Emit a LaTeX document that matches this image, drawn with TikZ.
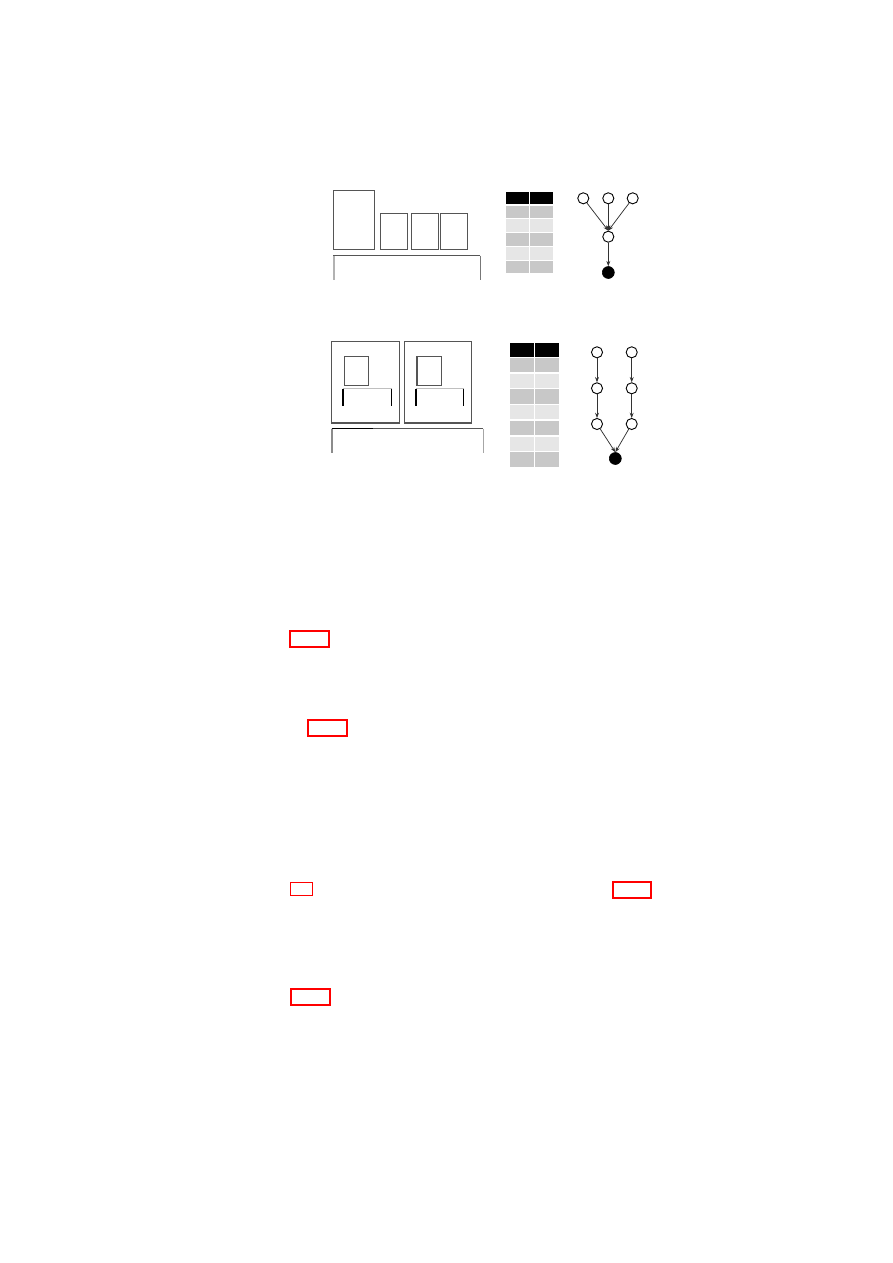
\documentclass[tikz,border=0pt]{standalone}
\usetikzlibrary{arrows.meta}
\definecolor{boxgray}{HTML}{555555}
\definecolor{rowdark}{HTML}{C8C8C8}
\definecolor{rowlight}{HTML}{E6E6E6}
\definecolor{lnkred}{HTML}{FF0000}
\begin{document}
\begin{tikzpicture}[x=0.66667pt,y=-0.66667pt,
  boxline/.style={draw=boxgray,line width=0.7pt},
  gnode/.style={circle,draw=black,line width=0.6pt,fill=white,minimum size=7.4pt,inner sep=0pt},
  sinknode/.style={circle,draw=black,fill=black,minimum size=8pt,inner sep=0pt},
  garrow/.style={draw=black!80,line width=0.5pt,-{Stealth[length=3.5pt,width=2.6pt]}},
  linkbox/.style={draw=lnkred,line width=1.1pt},
  linkthin/.style={draw=lnkred,line width=0.8pt}]
\useasboundingbox (0,0) rectangle (893,1263);
% ---------- top figure: boxes ----------
\draw[boxline] (333.3,190.3) rectangle (374.3,249.3);
\draw[boxline] (380.3,213.3) rectangle (407.3,249.3);
\draw[boxline] (411.3,213.3) rectangle (438.3,249.3);
\draw[boxline] (440.3,213.3) rectangle (467.3,249.3);
\draw[boxline] (333.3,255.7) -- (480.3,255.7);
\draw[draw=black!30,line width=1.2pt] (333.8,256) -- (333.8,280);
\draw[draw=boxgray!80,line width=0.7pt] (480.3,255.7) -- (480.3,280);
% ---------- top figure: table ----------
\foreach \c/\x in {0/506,1/529.8}{
  \fill[black] (\x,192) rectangle ++(22.8,12);
}
\foreach \i in {0,...,4}{
  \pgfmathsetmacro{\yy}{205.7+13.7*\i}
  \pgfmathtruncatemacro{\odd}{mod(\i,2)}
  \ifnum\odd=0 \def\rc{rowdark}\else\def\rc{rowlight}\fi
  \fill[\rc] (506,\yy) rectangle ++(22.8,12.7);
  \fill[\rc] (529.8,\yy) rectangle ++(22.8,12.7);
}
% ---------- top figure: graph ----------
\node[gnode] (a1) at (583.3,198.3) {};
\node[gnode] (a2) at (608.3,198.3) {};
\node[gnode] (a3) at (632.7,198.3) {};
\node[gnode] (am) at (608.3,236.7) {};
\node[sinknode] (as) at (608.3,272.5) {};
\draw[garrow] (a1) -- (am.north);
\draw[garrow] (a2) -- (am.north);
\draw[garrow] (a3) -- (am.north);
\draw[garrow] (am) -- (as);
% ---------- bottom figure: boxes ----------
\draw[boxline] (331.7,341.7) rectangle (399.3,423);
\draw[boxline] (404.3,341.7) rectangle (471.7,423);
\draw[boxline] (344.3,356.3) rectangle (368.7,385.3);
\draw[boxline] (417,356.3) rectangle (441.3,385.3);
\draw[draw=black!25,line width=1pt] (343,388.7) -- (391.7,388.7);
\draw[black,line width=0.7pt] (343,388.7) -- (343,406.3);
\draw[black,line width=0.7pt] (391.7,388.7) -- (391.7,406.3);
\draw[draw=black!25,line width=1pt] (416,388.7) -- (463.7,388.7);
\draw[black,line width=0.7pt] (416,388.7) -- (416,406.3);
\draw[black,line width=0.7pt] (463.7,388.7) -- (463.7,406.3);
\draw[boxline] (331.7,428.7) -- (483.3,428.7);
\draw[black,line width=0.8pt] (331.7,428.7) -- (373,428.7);
\draw[draw=black!45,line width=0.8pt] (332,428.7) -- (332,453);
\draw[draw=black!35,line width=0.8pt] (483.3,428.7) -- (483.3,453);
% ---------- bottom figure: table ----------
\fill[black] (509.7,342.7) rectangle ++(24,14);
\fill[black] (534.8,342.7) rectangle ++(24,14);
\foreach \i in {0,...,6}{
  \pgfmathsetmacro{\yy}{358+15.7*\i}
  \pgfmathtruncatemacro{\odd}{mod(\i,2)}
  \ifnum\odd=0 \def\rc{rowdark}\else\def\rc{rowlight}\fi
  \fill[\rc] (509.7,\yy) rectangle ++(24,14.3);
  \fill[\rc] (534.8,\yy) rectangle ++(24,14.3);
}
% ---------- bottom figure: graph ----------
\node[gnode] (b1) at (597,352.3) {};
\node[gnode] (b2) at (631.7,352.3) {};
\node[gnode] (b3) at (597,388.3) {};
\node[gnode] (b4) at (631.7,388.3) {};
\node[gnode] (b5) at (597,424) {};
\node[gnode] (b6) at (631.7,424) {};
\node[sinknode] (bs) at (615.3,458.5) {};
\draw[garrow] (b1) -- (b3);
\draw[garrow] (b2) -- (b4);
\draw[garrow] (b3) -- (b5);
\draw[garrow] (b4) -- (b6);
\draw[garrow] (b5) -- (bs.north);
\draw[garrow] (b6) -- (bs.north);
% ---------- red link boxes ----------
\draw[linkbox] (289.7,630.7) rectangle (328.7,647);
\draw[linkbox] (307.7,720.3) rectangle (347.3,736.3);
\draw[linkthin] (290.3,882.3) rectangle (312.3,895.3);
\draw[linkbox] (612.7,882.3) rectangle (651.3,898);
\draw[linkbox] (290.7,989.3) rectangle (330.3,1005.3);
\end{tikzpicture}
\end{document}
